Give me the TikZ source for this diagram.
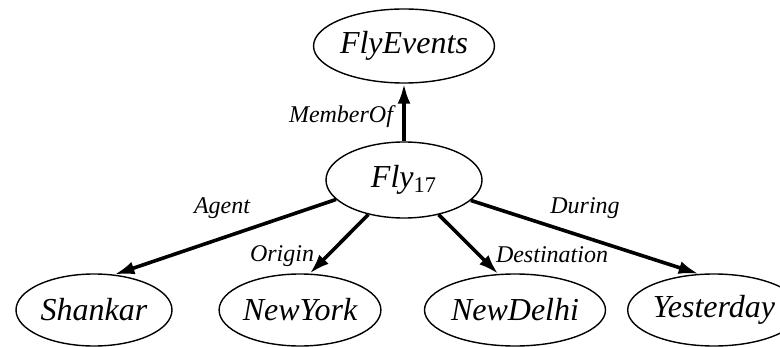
\documentclass[tikz,border=0pt]{standalone}
\usepackage{fontspec}
\setmainfont{Liberation Serif}
\usetikzlibrary{shapes.geometric,arrows.meta}
\tikzset{
  concept/.style={ellipse, draw, line width=0.7pt, inner sep=0pt, minimum width=78pt, minimum height=36pt, font=\fontsize{16}{19}\selectfont\itshape},
  relation/.style={line width=1.8pt, -{Latex[length=10pt,width=6.5pt]}},
  rellabel/.style={font=\fontsize{12}{14}\selectfont\itshape}
}
\begin{document}
\begin{tikzpicture}[x=0.5pt,y=-0.5pt]
\useasboundingbox (0,0) rectangle (780,347);
\clip (0,0) rectangle (780,347);
\node[concept, minimum height=37pt] (events) at (404,46) {FlyEvents};
\node[concept, minimum height=38pt] (fly) at (404,180) {Fly\textsubscript{\upshape 17}};
\node[concept] (shankar) at (94,310) {Shankar};
\node[concept] (newyork) at (300,310) {NewYork};
\node[concept] (newdelhi) at (515,310) {NewDelhi};
\node[concept] (yesterday) at (714,310) {Yesterday};
\draw[relation] (fly.north) -- (events.south);
\draw[relation] (fly.196) -- (shankar.60);
\draw[relation] (fly.224) -- (newyork.75);
\draw[relation] (fly.315) -- (newdelhi.115);
\draw[relation] (fly.343) -- (yesterday.113);
\node[rellabel] (memberof) at (341,117) {MemberOf};
\node[rellabel] (agent) at (222,208) {Agent};
\node[rellabel] (origin) at (282,256) {Origin};
\node[rellabel] (destination) at (552,255) {Destination};
\node[rellabel] (during) at (585,208) {During};
\end{tikzpicture}
\end{document}
